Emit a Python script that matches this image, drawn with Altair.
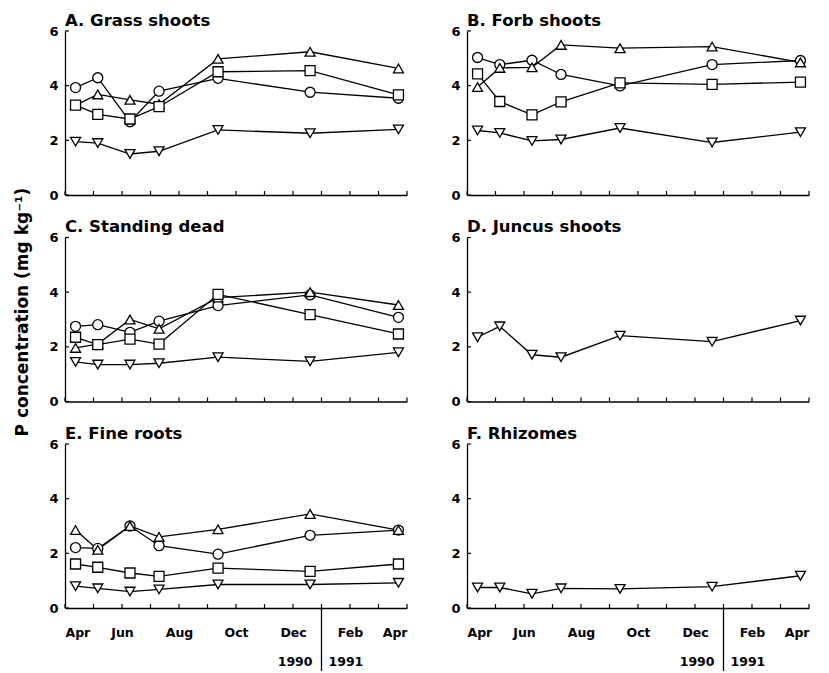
import json
import altair as alt
import pandas as pd

# ---------------- data ----------------
sample_months = [0.37, 1.15, 2.28, 3.30, 5.37, 8.60, 11.70]   # months after 1 Apr 1990
tick_values = list(range(13))
tick_labels = ["Apr", "", "Jun", "", "Aug", "", "Oct", "", "Dec", "", "Feb", "", "Apr"]
y_ticks = [0, 2, 4, 6]
year_labels = ["1990", "1991"]
year_break = [9]
shapes = ["circle", "triangle-up", "square", "triangle-down"]
panel_titles = ["A. Grass shoots", "B. Forb shoots", "C. Standing dead",
                "D. Juncus shoots", "E. Fine roots", "F. Rhizomes"]

grass_circle = [3.93, 4.29, 2.68, 3.80, 4.27, 3.76, 3.54]
grass_tri_up = [3.29, 3.68, 3.48, 3.32, 4.98, 5.24, 4.63]
grass_square = [3.29, 2.95, 2.78, 3.23, 4.51, 4.55, 3.66]
grass_tri_down = [1.95, 1.90, 1.50, 1.60, 2.38, 2.26, 2.40]

forb_circle = [5.03, 4.77, 4.93, 4.41, 3.99, 4.77, 4.92]
forb_tri_up = [3.95, 4.65, 4.67, 5.49, 5.37, 5.43, 4.85]
forb_square = [4.43, 3.42, 2.93, 3.41, 4.10, 4.05, 4.13]
forb_tri_down = [2.36, 2.27, 1.98, 2.03, 2.45, 1.92, 2.30]

dead_circle = [2.75, 2.81, 2.53, 2.94, 3.51, 3.90, 3.08]
dead_tri_up = [1.96, 2.10, 3.00, 2.66, 3.80, 4.00, 3.53]
dead_square = [2.35, 2.08, 2.28, 2.10, 3.92, 3.18, 2.47]
dead_tri_down = [1.45, 1.35, 1.35, 1.40, 1.62, 1.47, 1.80]

juncus_tri_down = [2.35, 2.75, 1.71, 1.62, 2.41, 2.19, 2.96]

roots_circle = [2.21, 2.18, 3.00, 2.28, 1.97, 2.66, 2.85]
roots_tri_up = [2.85, 2.13, 3.00, 2.60, 2.88, 3.44, 2.85]
roots_square = [1.61, 1.49, 1.28, 1.16, 1.46, 1.34, 1.61]
roots_tri_down = [0.80, 0.72, 0.60, 0.68, 0.86, 0.86, 0.92]

rhizome_tri_down = [0.75, 0.75, 0.52, 0.72, 0.70, 0.78, 1.18]

panels_data = [
    {"circle": grass_circle, "triangle-up": grass_tri_up, "square": grass_square, "triangle-down": grass_tri_down},
    {"circle": forb_circle, "triangle-up": forb_tri_up, "square": forb_square, "triangle-down": forb_tri_down},
    {"circle": dead_circle, "triangle-up": dead_tri_up, "square": dead_square, "triangle-down": dead_tri_down},
    {"triangle-down": juncus_tri_down},
    {"circle": roots_circle, "triangle-up": roots_tri_up, "square": roots_square, "triangle-down": roots_tri_down},
    {"triangle-down": rhizome_tri_down},
]

# ---------------- style ----------------
W, H = 342, 164
FONT = "DejaVu Sans"
label_expr = json.dumps(tick_labels) + "[datum.value]"
xtick_df = pd.DataFrame({"month": tick_values})
ytick_df = pd.DataFrame({"value": y_ticks})


def make_panel(title, series, bottom):
    recs = []
    for shp, vals in series.items():
        for m, v in zip(sample_months, vals):
            recs.append({"month": m, "value": v, "shape": shp})
    df = pd.DataFrame(recs)
    xs = alt.Scale(domain=[0, 12], nice=False, zero=False)
    ys = alt.Scale(domain=[0, 6], nice=False)

    x_main = alt.Axis(orient="bottom", values=tick_values, ticks=False, labels=bottom,
                      labelExpr=label_expr, title=None, grid=False, domainColor="black",
                      domainWidth=1.3, labelFont=FONT, labelFontWeight="bold",
                      labelFontSize=12.5, labelColor="black", labelPadding=18)
    y_main = alt.Axis(orient="left", values=y_ticks, ticks=False, title=None, grid=False,
                      domainColor="black", domainWidth=1.3, labelFont=FONT,
                      labelFontWeight="bold", labelFontSize=13, labelColor="black",
                      labelPadding=7)
    X = alt.X("month:Q", scale=xs, axis=x_main)
    Y = alt.Y("value:Q", scale=ys, axis=y_main)

    base = alt.Chart(df)
    lines = base.mark_line(stroke="black", strokeWidth=1.3).encode(x=X, y=Y, detail="shape:N")
    # inward-pointing axis ticks
    xt = alt.Chart(xtick_df).mark_rule(stroke="black", strokeWidth=1.2).encode(
        x=X, y=alt.value(H), y2=alt.value(H - 4))
    yt = alt.Chart(ytick_df).mark_rule(stroke="black", strokeWidth=1.2).encode(
        y=Y, x=alt.value(0), x2=alt.value(4))
    points = base.mark_point(filled=True, fill="white", stroke="black", strokeWidth=1.3,
                             size=100, opacity=1).encode(
        x=X, y=Y,
        shape=alt.Shape("shape:N", scale=alt.Scale(domain=shapes, range=shapes), legend=None),
    )
    layers = [lines, xt, yt, points]
    if bottom:
        brk = pd.DataFrame({"month": year_break})
        divider = alt.Chart(brk).mark_rule(stroke="black", strokeWidth=1.3).encode(
            x=X, y=alt.value(H), y2=alt.value(H + 63))
        yl = pd.DataFrame({"month": year_break * 2, "label": year_labels})
        t1990 = alt.Chart(yl.iloc[[0]]).mark_text(
            align="right", baseline="alphabetic", dx=-9, font=FONT, fontSize=12.5,
            fontWeight="bold", color="black").encode(x=X, y=alt.value(H + 58), text="label:N")
        t1991 = alt.Chart(yl.iloc[[1]]).mark_text(
            align="left", baseline="alphabetic", dx=7, font=FONT, fontSize=12.5,
            fontWeight="bold", color="black").encode(x=X, y=alt.value(H + 58), text="label:N")
        layers += [divider, t1990, t1991]

    return alt.layer(*layers).properties(
        width=W, height=H,
        title=alt.TitleParams(title, anchor="start", frame="group", font=FONT, fontSize=16.5,
                              fontWeight="bold", color="black", offset=-17,
                              baseline="alphabetic"),
    )


panels = [make_panel(t, d, i >= 4) for i, (t, d) in enumerate(zip(panel_titles, panels_data))]

chart = alt.concat(*panels, columns=2, spacing={"row": 16.5, "column": 42}).properties(
    title=alt.TitleParams("P concentration (mg kg\u207b\u00b9)", orient="left", anchor="middle",
                          font=FONT, fontSize=17, fontWeight="bold", color="black", offset=17,
                          dx=30),
    padding={"left": 5, "top": 4, "right": 2, "bottom": 0},
    background="white",
).configure_view(stroke=None)

chart.save("out.html", embed_options={"renderer": "svg", "actions": False})
